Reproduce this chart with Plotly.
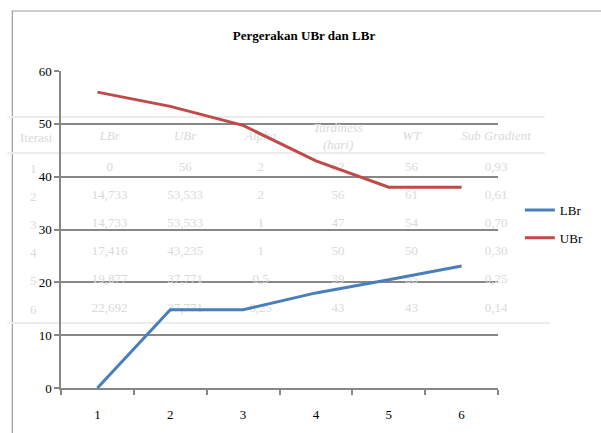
import plotly.graph_objects as go

# Iteration labels and the two bound series
iterations = [1, 2, 3, 4, 5, 6]
x_labels = ["1", "2", "3", "4", "5", "6"]
lbr = [0, 14.8, 14.8, 18.0, 20.5, 23.1]
ubr = [56, 53.3, 49.7, 43.0, 38.0, 38.0]
y_ticks = [0, 10, 20, 30, 40, 50, 60]

# Faint iteration table printed behind the chart
table_header = ["Iterasi", "LBr", "UBr", "Alpha", "Tardiness<br>(hari)", "WT", "Sub Gradient"]
table_iterasi = ["1", "2", "3", "4", "5", "6"]
table_lbr = ["0", "14,733", "14,733", "17,416", "19,877", "22,692"]
table_ubr = ["56", "53,533", "53,533", "43,235", "37,771", "37,771"]
table_alpha = ["2", "2", "1", "1", "0,5", "0,25"]
table_tardiness = ["62", "56", "47", "50", "39", "43"]
table_wt = ["56", "61", "54", "50", "55", "43"]
table_subgrad = ["0,93", "0,61", "0,70", "0,30", "0,25", "0,14"]

# ---- layout geometry (pixels) ----
W, H = 601, 433
L, R, T, B = 61, 100, 71, 45
PW, PH = W - L - R, H - T - B
XR = [0.5, 6.5]
YR = [0, 60]

def px_x(px):
    return XR[0] + (px - L) / PW * (XR[1] - XR[0])

def px_y(py):
    return YR[0] + (H - B - py) / PH * (YR[1] - YR[0])

def paper_x(px):
    return (px - L) / PW

def paper_y(py):
    return (H - B - py) / PH

SERIF = "Liberation Serif"
GRID = "#878787"
FAINT = "#dadada"

col_px = [34, 110, 186, 262, 340, 414, 499]
row_px = [168, 196, 224, 252, 280, 309]
header_px = 137

fig = go.Figure()

# table body text inside the plot area, drawn first so the lines sit on top
columns = [table_lbr, table_ubr, table_alpha,
           table_tardiness, table_wt, table_subgrad]
tx, ty, tt = [], [], []
for cx, col in zip(col_px[1:], columns):
    for ry, val in zip(row_px, col):
        tx.append(px_x(cx))
        ty.append(px_y(ry))
        tt.append(val)
fig.add_trace(go.Scatter(
    x=tx, y=ty, text=tt, mode="text", cliponaxis=False,
    textfont=dict(family=SERIF, size=13, color=FAINT),
    hoverinfo="skip", showlegend=False))

fig.add_trace(go.Scatter(
    x=[px_x(c) for c in col_px[1:]], y=[px_y(header_px)] * (len(col_px) - 1),
    text=[f"<i>{h}</i>" for h in table_header[1:]],
    mode="text", cliponaxis=False,
    textfont=dict(family=SERIF, size=13, color=FAINT),
    hoverinfo="skip", showlegend=False))

# data series
fig.add_trace(go.Scatter(
    x=iterations, y=lbr, mode="lines", name="LBr", legendgroup="a",
    line=dict(color="#4a7ebb", width=3)))
fig.add_trace(go.Scatter(
    x=iterations, y=ubr, mode="lines", name="UBr", legendgroup="b",
    line=dict(color="#be4b48", width=3)))

# first table column sits left of the y axis
faint_font = dict(family=SERIF, size=13, color=FAINT)
annotations = [dict(text=table_header[0], xref="paper", yref="paper",
                    x=paper_x(36), y=paper_y(header_px), showarrow=False,
                    xanchor="center", yanchor="middle", font=faint_font)]
for ry, val in zip(row_px, table_iterasi):
    annotations.append(dict(text=val, xref="paper", yref="paper",
                            x=paper_x(33), y=paper_y(ry), showarrow=False,
                            xanchor="center", yanchor="middle", font=faint_font))

shapes = [
    # outer chart frame
    dict(type="rect", xref="paper", yref="paper",
         x0=paper_x(12), x1=paper_x(640), y0=paper_y(470), y1=paper_y(11),
         line=dict(color="#9a9a9a", width=1.2), layer="below"),
]
# faint table rules
for ry, x1 in [(117, 548), (153, 548), (323, 553)]:
    shapes.append(dict(type="line", xref="paper", yref="paper",
                       x0=paper_x(7), x1=paper_x(x1), y0=paper_y(ry), y1=paper_y(ry),
                       line=dict(color="#ececec", width=2), layer="below"))

fig.update_layout(
    width=W, height=H,
    margin=dict(l=L, r=R, t=T, b=B),
    paper_bgcolor="white", plot_bgcolor="rgba(0,0,0,0)",
    title=dict(text="<b>Pergerakan UBr dan LBr</b>", xref="container",
               x=304 / W, xanchor="center",
               y=1 - 35 / H, yanchor="middle",
               font=dict(family=SERIF, size=13, color="#000")),
    font=dict(family=SERIF, size=13, color="#000"),
    showlegend=True,
    legend=dict(x=paper_x(523), xanchor="left", y=paper_y(224), yanchor="middle",
                font=dict(family=SERIF, size=13, color="#000"),
                bgcolor="rgba(0,0,0,0)", tracegroupgap=8, traceorder="grouped"),
    shapes=shapes,
    annotations=annotations,
)

fig.update_xaxes(
    range=XR, tickvals=iterations, ticktext=x_labels, ticks="",
    showgrid=False, zeroline=False, showline=True, linecolor=GRID, linewidth=1.5,
    minor=dict(tickvals=[i + 0.5 for i in [0] + iterations], ticks="outside",
               ticklen=5, tickcolor=GRID, tickwidth=1.5, showgrid=False),
    ticklabelstandoff=14, automargin=False,
    tickfont=dict(family=SERIF, size=13, color="#000"))

fig.update_yaxes(
    range=YR, tickvals=y_ticks, ticks="outside", ticklen=5, tickcolor=GRID, tickwidth=1.5,
    showgrid=True, gridcolor=GRID, gridwidth=1.5, zeroline=False,
    showline=True, linecolor=GRID, linewidth=1.5, automargin=False,
    tickfont=dict(family=SERIF, size=13, color="#000"))

fig.write_html("out.html")
